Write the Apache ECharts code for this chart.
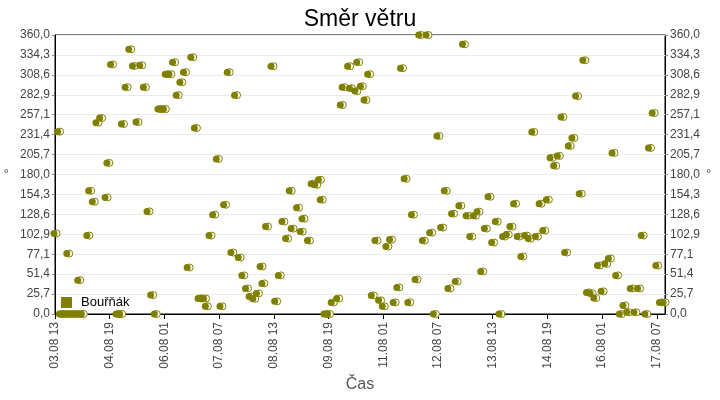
<!DOCTYPE html>
<html>
<head>
<meta charset="utf-8">
<script src="https://cdn.jsdelivr.net/npm/echarts@6/dist/echarts.min.js"></script>
<style>html,body{margin:0;padding:0;background:#fff}#c{width:720px;height:400px}</style>
</head>
<body>
<div id="c"></div>
<script>
// Start of the time axis: 03.08 13:00; times are hours since start
const startDay = 3, startHour = 13, monthStr = '08';
const axisEndHours = 334.5;
const tickLabelHours = [0, 30, 60, 90, 120, 150, 180, 210, 240, 270, 300, 330];
const seriesName = 'Bouřňák';
const hoursSinceStart = [0,2,3,4,6,7,8,10,12,13,14,15,18,19,21,23,25,28,29,31,34,35,36,37,39,41,43,45,47,49,51,53,55,57,58,60,61,63,65,67,69,71,73,75,77,79,80,82,83,85,87,89,91,93,95,97,99,101,103,105,107,109,111,113,114,116,119,121,123,125,127,129,130,133,135,136,139,141,143,145,146,148,150,152,155,157,158,161,162,165,166,168,170,172,174,176,178,180,182,184,186,188,190,192,194,196,198,200,202,204,206,208,210,212,214,216,218,220,222,224,226,228,230,232,234,236,238,240,242,244,246,248,250,252,254,256,258,260,262,264,266,268,270,272,274,276,278,280,282,284,286,288,290,292,294,296,298,300,302,304,306,308,310,312,314,316,318,320,322,324,326,328,330,332,334];
const windDirection = [104,235.3,0,0,0,78,0,0,0,43.7,0,0,101.2,159,144.9,246.9,252.9,150.4,195,322,0,0,0,245.2,292.7,341.6,320,247.7,321,292.7,132.4,24.4,0,264.4,264.4,264.4,309.4,309.4,324.9,282.4,299,312,60,331.3,240,20.1,20.1,20.1,9.9,101.2,128.2,200.1,9.9,141,312,79.3,282.4,72.9,49.8,33,22.7,19.7,26.6,61.3,39.5,112.8,319.7,16.3,49.8,119.2,97.3,159,110.2,137.2,106.3,123,94.7,168,166.7,173.2,147.5,0,0,15,20.1,269.6,292.7,319.7,291.4,287.6,324.9,294,276,309.4,24,94.7,17.6,9.9,87,96,15,34.3,317.2,174.5,15,128.2,44.6,360,94.7,360,105,0,229.7,111.5,159,33,129.5,42,139.7,348,126.9,99.9,126.9,132,54.9,110.2,151.3,92.2,119.2,0,99.9,102.5,112.8,142.3,99.9,74.2,101.2,97.3,234.9,99.9,142.3,107.6,147.5,201.5,191.2,204,254.2,79.3,216.9,227.2,281.2,155.2,327.4,27.9,26.6,20.6,62.6,29.2,64.7,71.6,207.9,49.8,0,11.1,2.2,33,2.2,33,101.2,0,214.3,259.3,62.6,15,15];
const yMin = 0, yMax = 360, ySteps = 14;

const pad = n => (n < 10 ? '0' : '') + n;
function fmtTime(h) {
  const total = startHour + Math.round(h);
  const d = startDay + Math.floor(total / 24);
  return pad(d) + '.' + monthStr + ' ' + pad(total % 24);
}
const fmtDeg = v => (Math.round(v * 10) / 10).toFixed(1).replace('.', ',');

const olive = '#808000';
const chart = echarts.init(document.getElementById('c'));
const font = 'Liberation Sans, Arial, sans-serif';
const yCommon = {
  type: 'value', min: yMin, max: yMax, interval: (yMax - yMin) / ySteps,
  name: '°', nameLocation: 'middle', nameRotate: 0,
  nameTextStyle: { color: '#444', fontSize: 13, fontFamily: font },
  axisLine: { show: true, lineStyle: { color: '#000', width: 1 } },
  axisTick: { show: true, length: 3, lineStyle: { color: '#888' } },
  axisLabel: { color: '#444', fontSize: 12, fontFamily: font, formatter: fmtDeg, margin: 5 },
};
const points = hoursSinceStart.map((h, i) => [h, windDirection[i]]);
chart.setOption({
  animation: false,
  backgroundColor: '#fff',
  title: { text: 'Směr větru', left: 'center', top: 3,
    textStyle: { color: '#000', fontSize: 23, fontWeight: 'normal', fontFamily: font } },
  legend: { data: [{ name: seriesName, icon: 'rect', itemStyle: { color: olive, borderWidth: 0 } }],
    left: 61, top: 296, padding: 0, itemWidth: 11, itemHeight: 11, itemGap: 9,
    textStyle: { color: '#000', fontSize: 13, fontFamily: font, padding: [0, 0, 0, 4] } },
  grid: { left: 55, right: 55, top: 35, bottom: 86, show: true, borderColor: '#000', borderWidth: 1 },
  xAxis: {
    type: 'value', min: 0, max: axisEndHours, interval: 30,
    name: 'Čas', nameLocation: 'middle', nameGap: 62,
    nameTextStyle: { color: '#555', fontSize: 16, fontFamily: font },
    axisLine: { show: true, lineStyle: { color: '#000' } },
    axisTick: { show: true, length: 5, lineStyle: { color: '#000' } },
    splitLine: { show: false },
    axisLabel: { color: '#444', fontSize: 12, fontFamily: font, rotate: 90, margin: 8,
      showMaxLabel: false,
      formatter: v => tickLabelHours.indexOf(v) >= 0 ? fmtTime(v) : '' },
  },
  yAxis: [
    Object.assign({}, yCommon, { position: 'left', nameGap: 46,
      splitLine: { show: true, lineStyle: { color: '#ebebeb', width: 1 } } }),
    Object.assign({}, yCommon, { position: 'right', nameGap: 12, splitLine: { show: false } }),
  ],
  series: [{
    name: seriesName, type: 'scatter', symbol: 'circle', symbolSize: 7, symbolOffset: [1.5, 0],
    data: points, z: 2,
    itemStyle: { color: '#fff', borderColor: olive, borderWidth: 1, opacity: 1 },
    emphasis: { disabled: true }
  }, {
    name: seriesName, type: 'scatter', symbol: 'circle', symbolSize: 7, symbolOffset: [-1, 0],
    data: points, z: 3,
    itemStyle: { color: olive, opacity: 1 },
    emphasis: { disabled: true }
  }]
});
</script>
</body>
</html>
